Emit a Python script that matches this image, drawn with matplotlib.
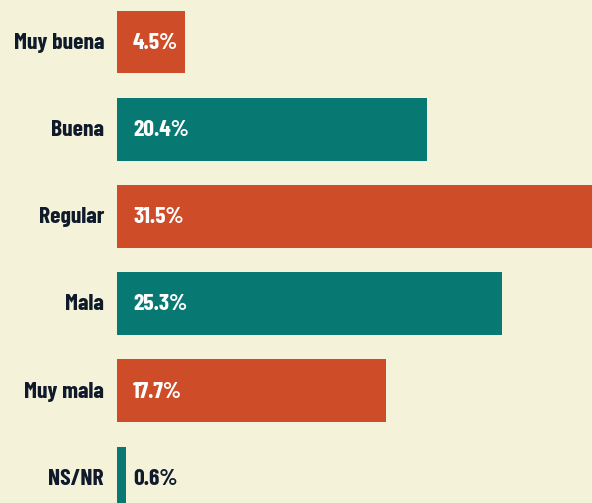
import matplotlib.pyplot as plt

cats = ["Muy buena", "Buena", "Regular", "Mala", "Muy mala", "NS/NR"]
vals = [4.5, 20.4, 31.5, 25.3, 17.7, 0.6]
labels = ["4.5%", "20.4%", "31.5%", "25.3%", "17.7%", "0.6%"]

orange = "#CE4C27"
teal = "#087872"
bg = "#F5F2DA"
ink = "#0F1A2B"
colors = [orange, teal, orange, teal, orange, teal]

fam = ["Barlow Condensed", "DejaVu Sans"]
px = 15.22  # pixels per percent point

fig = plt.figure(figsize=(5.92, 5.03), dpi=100, facecolor=bg)
ax = fig.add_axes([117 / 592, 0, 475 / 592, 1])
ax.set_facecolor(bg)

y = range(len(cats))
ax.barh(y, vals, height=0.72, color=colors)
ax.set_xlim(0, 475 / px)
ax.set_ylim(5 + 25 / 87.2, -42 / 87.2)
ax.axis("off")

for i, (c, v, l) in enumerate(zip(cats, vals, labels)):
    ax.text(-13 / px, i + 0.01, c, ha="right", va="center", fontsize=17,
            fontweight="bold", color=ink, family=fam)
    tc = "white" if v > 2 else ink
    ax.text(16 / px, i + 0.01, l, ha="left", va="center", fontsize=17,
            fontweight="bold", color=tc, family=fam)

fig.savefig("out.png", dpi=100, facecolor=bg)
